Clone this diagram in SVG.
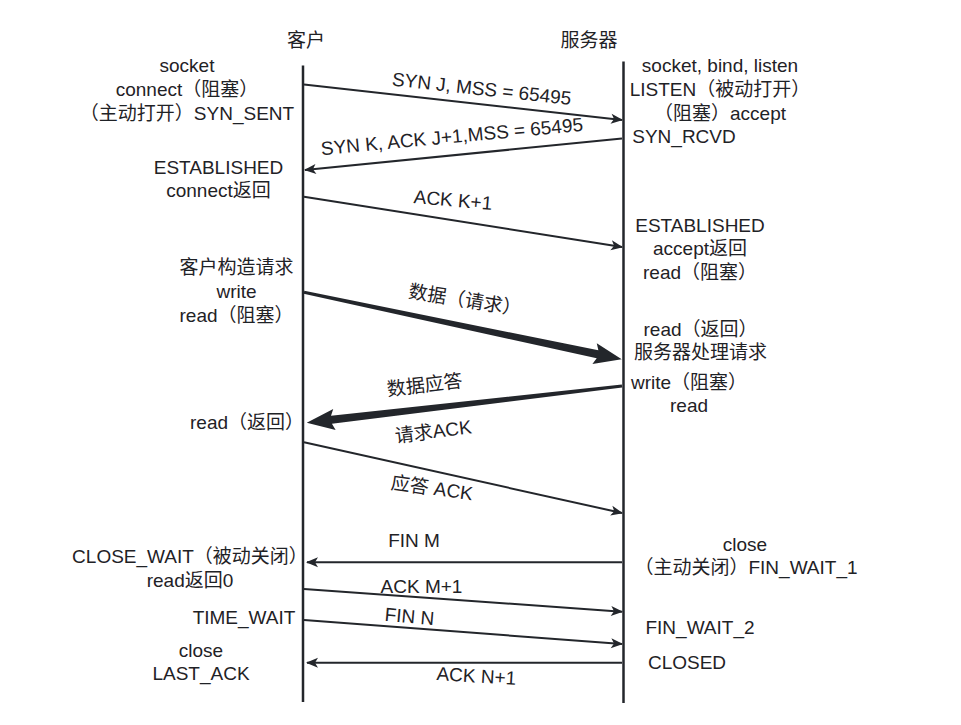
<svg xmlns="http://www.w3.org/2000/svg" width="961" height="725" viewBox="0 0 961 725">
<style>
text{font-family:"Liberation Sans","Noto Sans CJK SC",sans-serif;font-size:19px;fill:#1f2226;text-anchor:middle}
.life{stroke:#23262b;stroke-width:2.5;fill:none}
.msg{stroke:#23262b;stroke-width:2;fill:none}
.thick{fill:#23262b}
</style>
<defs>
<marker id="ah" viewBox="-12 -6 14 12" refX="0" refY="0" markerUnits="userSpaceOnUse" markerWidth="14" markerHeight="12" orient="auto">
<path d="M1,0 L-11,-5 L-8,0 L-11,5 Z" fill="#23262b"/>
</marker>
</defs>
<rect width="961" height="725" fill="#ffffff"/>

<g id="client">
<text x="306" y="47">客户</text>
<line class="life" x1="303" y1="65.5" x2="303" y2="702"/>
</g>
<g id="server">
<text x="589" y="47">服务器</text>
<line class="life" x1="623.5" y1="61.5" x2="623.5" y2="703"/>
</g>

<g id="client-open">
<text x="187" y="72.3">socket</text>
<text x="187" y="96">connect（阻塞）</text>
<text x="187" y="120">（主动打开）SYN_SENT</text>
</g>
<g id="client-established">
<text x="218.5" y="174">ESTABLISHED</text>
<text x="218.5" y="196.7">connect返回</text>
</g>
<g id="client-request">
<text x="236.5" y="273.7">客户构造请求</text>
<text x="236.5" y="297.7">write</text>
<text x="236.5" y="321.7">read（阻塞）</text>
</g>
<g id="client-read">
<text x="247" y="429">read（返回）</text>
</g>
<g id="client-closewait">
<text x="190" y="563.3">CLOSE_WAIT（被动关闭）</text>
<text x="190" y="586.7">read返回0</text>
</g>
<g id="client-timewait">
<text x="244" y="624">TIME_WAIT</text>
</g>
<g id="client-lastack">
<text x="201" y="657">close</text>
<text x="201" y="680">LAST_ACK</text>
</g>

<g id="server-listen">
<text x="720" y="71.7">socket, bind, listen</text>
<text x="720" y="96">LISTEN（被动打开）</text>
<text x="720" y="120">（阻塞）accept</text>
</g>
<g id="server-synrcvd">
<text x="684" y="142.7">SYN_RCVD</text>
</g>
<g id="server-established">
<text x="700" y="231.7">ESTABLISHED</text>
<text x="700" y="255">accept返回</text>
<text x="700" y="279">read（阻塞）</text>
</g>
<g id="server-process">
<text x="700.5" y="336">read（返回）</text>
<text x="700.5" y="358.5">服务器处理请求</text>
</g>
<g id="server-write">
<text x="689" y="389">write（阻塞）</text>
<text x="689" y="412">read</text>
</g>
<g id="server-finwait1">
<text x="745" y="550.7">close</text>
<text x="746" y="574">（主动关闭）FIN_WAIT_1</text>
</g>
<g id="server-finwait2">
<text x="700" y="634">FIN_WAIT_2</text>
</g>
<g id="server-closed">
<text x="687" y="669">CLOSED</text>
</g>

<g id="connectors">
<line class="msg" x1="304" y1="84.5" x2="622" y2="120" marker-end="url(#ah)"/>
<line class="msg" x1="622" y1="138.5" x2="305" y2="170" marker-end="url(#ah)"/>
<line class="msg" x1="304" y1="196.7" x2="622" y2="247" marker-end="url(#ah)"/>
<g transform="translate(304,292.3) rotate(11.92)">
<polygon class="thick" points="0,-1.6 300,-4 297,-10.5 324.7,0 297,10.5 300,4 0,1.6"/>
</g>
<g transform="translate(622,386) rotate(173.36)">
<polygon class="thick" points="0,-1.6 292.5,-4 289.5,-10.5 317.4,0 289.5,10.5 292.5,4 0,1.6"/>
</g>
<line class="msg" x1="304" y1="442.3" x2="622" y2="513" marker-end="url(#ah)"/>
<line class="msg" x1="622" y1="562.3" x2="307" y2="562.3" marker-end="url(#ah)"/>
<line class="msg" x1="304" y1="589" x2="622" y2="611.7" marker-end="url(#ah)"/>
<line class="msg" x1="304" y1="620" x2="622" y2="644" marker-end="url(#ah)"/>
<line class="msg" x1="622" y1="662.7" x2="307" y2="662.7" marker-end="url(#ah)"/>

<text transform="translate(481,95.2) rotate(6.2)">SYN J, MSS = 65495</text>
<text transform="translate(452.5,143) rotate(-5.3)">SYN K, ACK J+1,MSS = 65495</text>
<text transform="translate(452.5,206.5) rotate(5)">ACK K+1</text>
<text transform="translate(464,306.5) rotate(9)">数据（请求）</text>
<text transform="translate(425.5,391.5) rotate(-6.8)">数据应答</text>
<text transform="translate(434,438) rotate(-7)">请求ACK</text>
<text transform="translate(431,494.5) rotate(8)">应答 ACK</text>
<text x="414" y="546.7">FIN M</text>
<text x="421.5" y="592.7">ACK M+1</text>
<text transform="translate(409,623) rotate(5)">FIN N</text>
<text transform="translate(476,682.5) rotate(3.5)">ACK N+1</text>
</g>
</svg>
